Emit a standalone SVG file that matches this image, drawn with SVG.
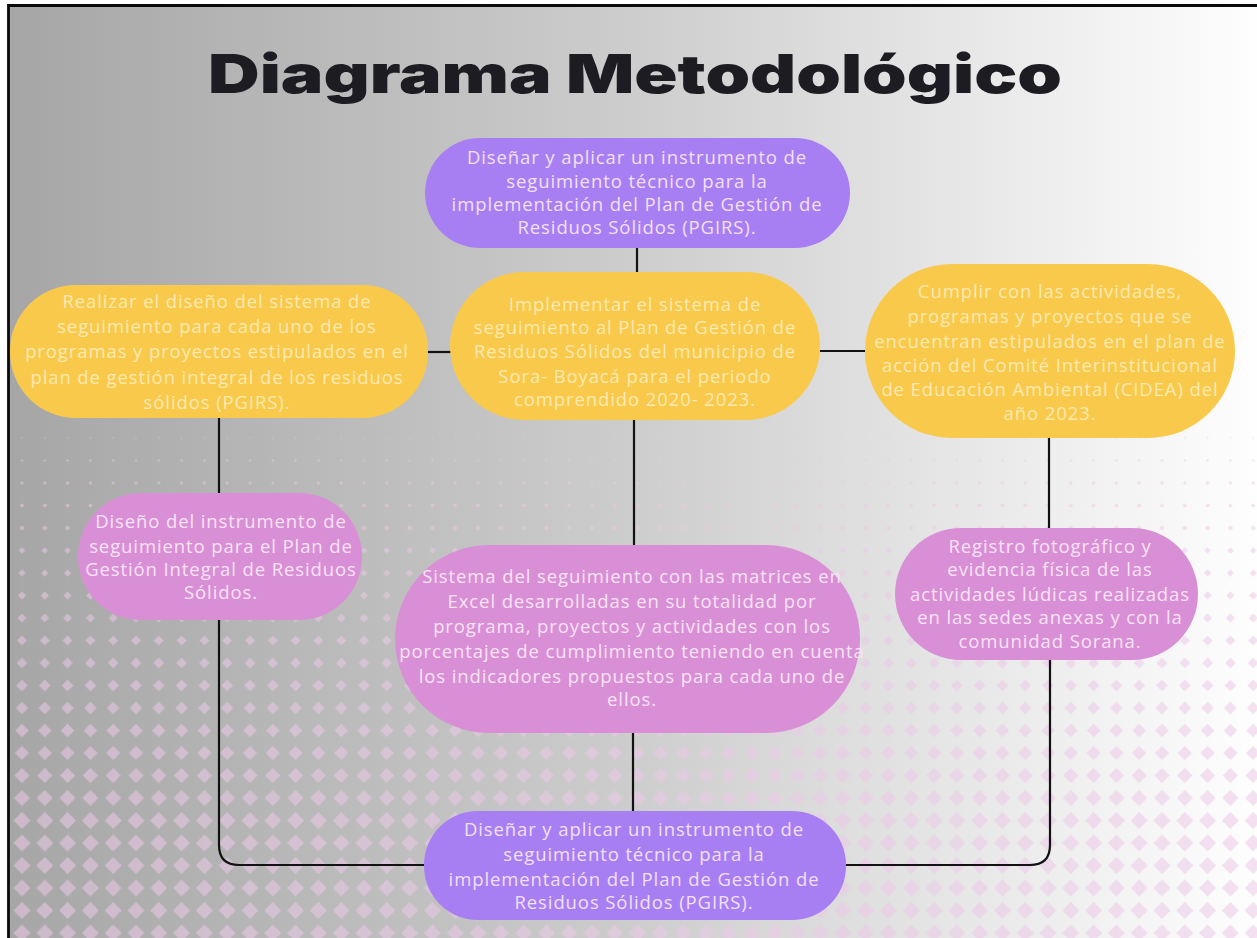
<svg xmlns="http://www.w3.org/2000/svg" width="1257" height="938" viewBox="0 0 1257 938">
<style>
.t{font-family:"Open Sans","Noto Sans",sans-serif;font-size:18.5px;letter-spacing:0.9px;text-anchor:middle}
.pu{fill:#a87ef3}.ye{fill:#f9c94b}.pk{fill:#d98fd6}
.tpu{fill:#f2e0f8}.tye{fill:#fde9b2}.tpk{fill:#f8e3f4}
.dm{fill:#ecc9e8}
.c{fill:none;stroke:#121212;stroke-width:2.2}
</style>
<defs>
<linearGradient id="bg" x1="0" y1="0" x2="1" y2="0">
<stop offset="0" stop-color="#a6a6a6"/>
<stop offset="0.5" stop-color="#cdcdcd"/>
<stop offset="1" stop-color="#fefefe"/>
</linearGradient>
<pattern id="p0" patternUnits="userSpaceOnUse" x="10.6" y="426.75" width="22.8" height="22.5"><path class="dm" d="M11.4 10.25L12.4 11.25L11.4 12.25L10.4 11.25Z"/></pattern>
<pattern id="p1" patternUnits="userSpaceOnUse" x="10.6" y="449.25" width="22.8" height="22.5"><path class="dm" d="M11.4 9.81L12.84 11.25L11.4 12.69L9.96 11.25Z"/></pattern>
<pattern id="p2" patternUnits="userSpaceOnUse" x="10.6" y="471.75" width="22.8" height="22.5"><path class="dm" d="M11.4 9.37L13.28 11.25L11.4 13.13L9.52 11.25Z"/></pattern>
<pattern id="p3" patternUnits="userSpaceOnUse" x="10.6" y="494.25" width="22.8" height="22.5"><path class="dm" d="M11.4 8.93L13.72 11.25L11.4 13.57L9.08 11.25Z"/></pattern>
<pattern id="p4" patternUnits="userSpaceOnUse" x="10.6" y="516.75" width="22.8" height="22.5"><path class="dm" d="M11.4 8.49L14.16 11.25L11.4 14.01L8.64 11.25Z"/></pattern>
<pattern id="p5" patternUnits="userSpaceOnUse" x="10.6" y="539.25" width="22.8" height="22.5"><path class="dm" d="M11.4 8.05L14.6 11.25L11.4 14.45L8.2 11.25Z"/></pattern>
<pattern id="p6" patternUnits="userSpaceOnUse" x="10.6" y="561.75" width="22.8" height="22.5"><path class="dm" d="M11.4 7.6L15.05 11.25L11.4 14.9L7.75 11.25Z"/></pattern>
<pattern id="p7" patternUnits="userSpaceOnUse" x="10.6" y="584.25" width="22.8" height="22.5"><path class="dm" d="M11.4 7.15L15.5 11.25L11.4 15.35L7.3 11.25Z"/></pattern>
<pattern id="p8" patternUnits="userSpaceOnUse" x="10.6" y="606.75" width="22.8" height="22.5"><path class="dm" d="M11.4 6.75L15.9 11.25L11.4 15.75L6.9 11.25Z"/></pattern>
<pattern id="p9" patternUnits="userSpaceOnUse" x="10.6" y="629.25" width="22.8" height="22.5"><path class="dm" d="M11.4 6.25L16.4 11.25L11.4 16.25L6.4 11.25Z"/></pattern>
<pattern id="p10" patternUnits="userSpaceOnUse" x="10.6" y="651.75" width="22.8" height="22.5"><path class="dm" d="M11.4 5.85L16.8 11.25L11.4 16.65L6 11.25Z"/></pattern>
<pattern id="p11" patternUnits="userSpaceOnUse" x="10.6" y="674.25" width="22.8" height="22.5"><path class="dm" d="M11.4 5.4L17.25 11.25L11.4 17.1L5.55 11.25Z"/></pattern>
<pattern id="p12" patternUnits="userSpaceOnUse" x="10.6" y="696.75" width="22.8" height="22.5"><path class="dm" d="M11.4 4.95L17.7 11.25L11.4 17.55L5.1 11.25Z"/></pattern>
<pattern id="p13" patternUnits="userSpaceOnUse" x="10.6" y="719.25" width="22.8" height="22.5"><path class="dm" d="M11.4 4.5L18.15 11.25L11.4 18L4.65 11.25Z"/></pattern>
<pattern id="p14" patternUnits="userSpaceOnUse" x="10.6" y="741.75" width="22.8" height="22.5"><path class="dm" d="M11.4 4.05L18.6 11.25L11.4 18.45L4.2 11.25Z"/></pattern>
<pattern id="p15" patternUnits="userSpaceOnUse" x="10.6" y="764.25" width="22.8" height="22.5"><path class="dm" d="M11.4 3.65L19 11.25L11.4 18.85L3.8 11.25Z"/></pattern>
<pattern id="p16" patternUnits="userSpaceOnUse" x="10.6" y="786.75" width="22.8" height="22.5"><path class="dm" d="M11.4 3.2L19.45 11.25L11.4 19.3L3.35 11.25Z"/></pattern>
<pattern id="p17" patternUnits="userSpaceOnUse" x="10.6" y="809.25" width="22.8" height="22.5"><path class="dm" d="M11.4 2.75L19.9 11.25L11.4 19.75L2.9 11.25Z"/></pattern>
</defs>
<rect width="1257" height="938" fill="#ffffff"/>
<rect x="8" y="5" width="1249" height="933" fill="url(#bg)"/>
<g id="pattern" opacity="0.55">
<rect x="10" y="426.75" width="1247" height="22.5" fill="url(#p0)"/>
<rect x="10" y="449.25" width="1247" height="22.5" fill="url(#p1)"/>
<rect x="10" y="471.75" width="1247" height="22.5" fill="url(#p2)"/>
<rect x="10" y="494.25" width="1247" height="22.5" fill="url(#p3)"/>
<rect x="10" y="516.75" width="1247" height="22.5" fill="url(#p4)"/>
<rect x="10" y="539.25" width="1247" height="22.5" fill="url(#p5)"/>
<rect x="10" y="561.75" width="1247" height="22.5" fill="url(#p6)"/>
<rect x="10" y="584.25" width="1247" height="22.5" fill="url(#p7)"/>
<rect x="10" y="606.75" width="1247" height="22.5" fill="url(#p8)"/>
<rect x="10" y="629.25" width="1247" height="22.5" fill="url(#p9)"/>
<rect x="10" y="651.75" width="1247" height="22.5" fill="url(#p10)"/>
<rect x="10" y="674.25" width="1247" height="22.5" fill="url(#p11)"/>
<rect x="10" y="696.75" width="1247" height="22.5" fill="url(#p12)"/>
<rect x="10" y="719.25" width="1247" height="22.5" fill="url(#p13)"/>
<rect x="10" y="741.75" width="1247" height="22.5" fill="url(#p14)"/>
<rect x="10" y="764.25" width="1247" height="22.5" fill="url(#p15)"/>
<rect x="10" y="786.75" width="1247" height="22.5" fill="url(#p16)"/>
<rect x="10" y="809.25" width="1247" height="130" fill="url(#p17)"/>
</g>
<g id="frame" fill="none" stroke="#0a0a0a" stroke-width="2.8">
<path d="M8.5 938V5.5H1257"/>
</g>
<text id="title" x="635" y="93" font-family="Inter, 'Liberation Sans', Arial, sans-serif" font-weight="900" font-size="53" fill="#1c1c22" text-anchor="middle" textLength="854" lengthAdjust="spacingAndGlyphs">Diagrama Metodológico</text>
<g id="connectors">
<path class="c" d="M637 248V272"/>
<path class="c" d="M428 352H451"/>
<path class="c" d="M820 351H865"/>
<path class="c" d="M219 418V493"/>
<path class="c" d="M634 420V545"/>
<path class="c" d="M1049 438V528"/>
<path class="c" d="M633 733V811"/>
<path class="c" d="M219 620V845Q219 865 239 865H424"/>
<path class="c" d="M1050 660V845Q1050 865 1030 865H846"/>
</g>
<g id="n1">
<rect class="pu" x="425" y="138" width="425" height="110" rx="55"/>
<text class="t tpu"><tspan x="637" y="164">Diseñar y aplicar un instrumento de</tspan><tspan x="637" y="188">seguimiento técnico para la</tspan><tspan x="637" y="211">implementación del Plan de Gestión de</tspan><tspan x="637" y="234">Residuos Sólidos (PGIRS).</tspan></text>
</g>
<g id="n2">
<rect class="ye" x="10" y="285" width="418" height="133" rx="66"/>
<text class="t tye"><tspan x="217" y="308">Realizar el diseño del sistema de</tspan><tspan x="217" y="333">seguimiento para cada uno de los</tspan><tspan x="217" y="358">programas y proyectos estipulados en el</tspan><tspan x="217" y="384">plan de gestión integral de los residuos</tspan><tspan x="217" y="409">sólidos (PGIRS).</tspan></text>
</g>
<g id="n3">
<rect class="ye" x="450" y="272" width="370" height="148" rx="74"/>
<text class="t tye"><tspan x="635" y="311">Implementar el sistema de</tspan><tspan x="635" y="334">seguimiento al Plan de Gestión de</tspan><tspan x="635" y="358">Residuos Sólidos del municipio de</tspan><tspan x="635" y="383">Sora- Boyacá para el periodo</tspan><tspan x="635" y="406">comprendido 2020- 2023.</tspan></text>
</g>
<g id="n4">
<rect class="ye" x="865" y="264" width="370" height="174" rx="87"/>
<text class="t tye"><tspan x="1050" y="298">Cumplir con las actividades,</tspan><tspan x="1050" y="323">programas y proyectos que se</tspan><tspan x="1050" y="348">encuentran estipulados en el plan de</tspan><tspan x="1050" y="372">acción del Comité Interinstitucional</tspan><tspan x="1050" y="396">de Educación Ambiental (CIDEA) del</tspan><tspan x="1050" y="420">año 2023.</tspan></text>
</g>
<g id="n5">
<rect class="pk" x="78" y="493" width="284" height="127" rx="63"/>
<text class="t tpk"><tspan x="221" y="528">Diseño del instrumento de</tspan><tspan x="221" y="553">seguimiento para el Plan de</tspan><tspan x="221" y="576">Gestión Integral de Residuos</tspan><tspan x="221" y="599">Sólidos.</tspan></text>
</g>
<g id="n6">
<rect class="pk" x="395" y="545" width="465" height="188" rx="94"/>
<text class="t tpk"><tspan x="632" y="583">Sistema del seguimiento con las matrices en</tspan><tspan x="632" y="608">Excel desarrolladas en su totalidad por</tspan><tspan x="632" y="633">programa, proyectos y actividades con los</tspan><tspan x="632" y="658">porcentajes de cumplimiento teniendo en cuenta</tspan><tspan x="632" y="683">los indicadores propuestos para cada uno de</tspan><tspan x="632" y="706">ellos.</tspan></text>
</g>
<g id="n7">
<rect class="pk" x="895" y="528" width="303" height="132" rx="66"/>
<text class="t tpk"><tspan x="1050" y="553">Registro fotográfico y</tspan><tspan x="1050" y="576">evidencia física de las</tspan><tspan x="1050" y="601">actividades lúdicas realizadas</tspan><tspan x="1050" y="624">en las sedes anexas y con la</tspan><tspan x="1050" y="648">comunidad Sorana.</tspan></text>
</g>
<g id="n8">
<rect class="pu" x="424" y="811" width="422" height="109" rx="54"/>
<text class="t tpu"><tspan x="634" y="836">Diseñar y aplicar un instrumento de</tspan><tspan x="634" y="861">seguimiento técnico para la</tspan><tspan x="634" y="886">implementación del Plan de Gestión de</tspan><tspan x="634" y="909">Residuos Sólidos (PGIRS).</tspan></text>
</g>
</svg>
